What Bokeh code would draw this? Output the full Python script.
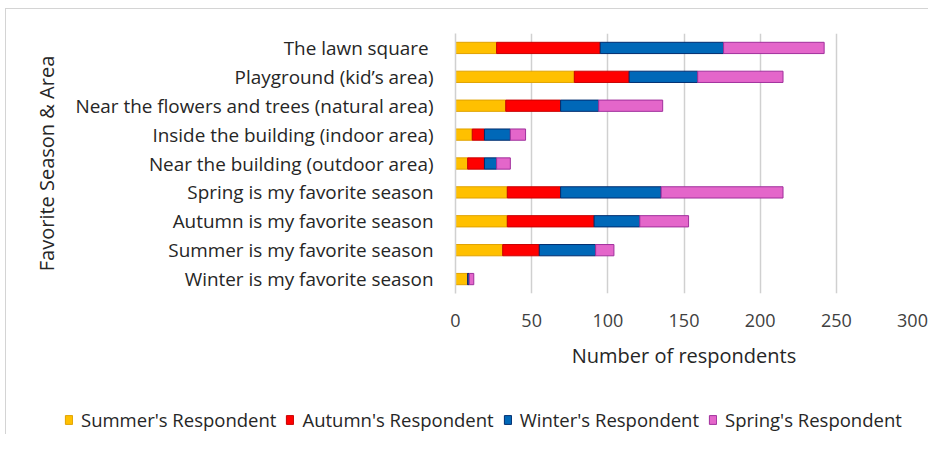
from bokeh.plotting import figure
from bokeh.layouts import column
from bokeh.models import (Legend, LegendItem, ColumnDataSource, Range1d,
                          FactorRange)
from bokeh.embed import file_html
from bokeh.resources import INLINE

# Categories, top to bottom as in the chart
categories = [
    "The lawn square ",
    "Playground (kid\u2019s area)",
    "Near the flowers and trees (natural area)",
    "Inside the building (indoor area)",
    "Near the building (outdoor area)",
    "Spring is my favorite season",
    "Autumn is my favorite season",
    "Summer is my favorite season",
    "Winter is my favorite season",
]
summer = [27, 78, 33, 11, 8, 34, 34, 31, 8]
autumn = [68, 36, 36, 8, 11, 35, 57, 24, 0]
winter = [81, 45, 25, 17, 8, 66, 30, 37, 1]
spring = [66, 56, 42, 10, 9, 80, 32, 12, 3]

series = ["summer", "autumn", "winter", "spring"]
series_labels = ["Summer's Respondent", "Autumn's Respondent",
                 "Winter's Respondent", "Spring's Respondent"]
x_ticks = [0, 50, 100, 150, 200, 250, 300]

fills = ["#FFC000", "#FF0000", "#0068B8", "#E466CA"]
lines = ["#E0A200", "#C80000", "#002C6E", "#A0309C"]

source = ColumnDataSource(dict(cat=categories, summer=summer, autumn=autumn,
                               winter=winter, spring=spring))

FONT = "Open Sans"
W, H1, H2 = 928, 400, 34

p = figure(width=W, height=H1,
           y_range=FactorRange(factors=categories[::-1]),
           x_range=Range1d(0, 300),
           output_backend="svg", toolbar_location=None,
           min_border_left=455, min_border_right=16,
           min_border_top=33, min_border_bottom=H1 - 293)

renderers = p.hbar_stack(series, y="cat", height=0.39, source=source,
                         fill_color=fills, line_color=lines, line_width=1)

p.outline_line_color = None
p.background_fill_color = "white"
p.border_fill_alpha = 0

p.ygrid.grid_line_color = None
p.xgrid.grid_line_color = "#d0d0d0"
p.xgrid.grid_line_width = 1.5
p.xaxis.ticker = x_ticks

xa = p.xaxis[0]
xa.axis_line_color = None
xa.major_tick_line_color = None
xa.minor_tick_line_color = None
xa.major_tick_out = 0
xa.major_label_standoff = 20
xa.major_label_text_font = FONT
xa.major_label_text_font_size = "18px"
xa.major_label_text_color = "#404040"
xa.axis_label = "Number of respondents"
xa.axis_label_text_font = FONT
xa.axis_label_text_font_size = "20px"
xa.axis_label_text_font_style = "normal"
xa.axis_label_text_color = "#262626"
xa.axis_label_standoff = 12

ya = p.yaxis[0]
ya.axis_line_color = "#d0d0d0"
ya.axis_line_width = 1.5
ya.major_tick_line_color = None
ya.minor_tick_line_color = None
ya.major_tick_out = 0
ya.major_label_standoff = 22
ya.major_label_text_font = FONT
ya.major_label_text_font_size = "18.9px"
ya.major_label_text_color = "#262626"
ya.axis_label = "Favorite Season & Area"
ya.axis_label_text_font = FONT
ya.axis_label_text_font_size = "20px"
ya.axis_label_text_font_style = "normal"
ya.axis_label_text_color = "#262626"
ya.axis_label_standoff = 12

# legend strip below the chart: hidden key renderers only feed the legend
q = figure(width=W, height=H2, x_axis_type=None, y_axis_type=None,
           x_range=Range1d(0, 1), y_range=Range1d(0, 1),
           output_backend="svg", toolbar_location=None, min_border=0,
           frame_align=False)
q.outline_line_color = None
q.background_fill_alpha = 0
q.border_fill_alpha = 0
q.grid.visible = False
keys = [q.hbar(y=[0.5], left=[0], right=[1], height=1, fill_color=f,
               line_color=lc, line_width=1, visible=False)
        for f, lc in zip(fills, lines)]

legend = Legend(items=[LegendItem(label=l, renderers=[r])
                       for l, r in zip(series_labels, keys)],
                orientation="horizontal", location=(64, 2),
                label_text_font=FONT, label_text_font_size="18.5px",
                label_text_color="#262626",
                glyph_width=9, glyph_height=11, label_standoff=8,
                spacing=9, padding=0, margin=0,
                border_line_color=None, background_fill_alpha=0)
q.add_layout(legend, "center")

layout = column(p, q, spacing=0)
layout.styles = {
    "background": ("linear-gradient(#d4d4d4,#d4d4d4) 5px 8px / 1px 100% no-repeat, "
                   "linear-gradient(#d4d4d4,#d4d4d4) 5px 8px / 100% 1px no-repeat, white"),
}

open("out.html", "w").write(file_html(layout, INLINE))
